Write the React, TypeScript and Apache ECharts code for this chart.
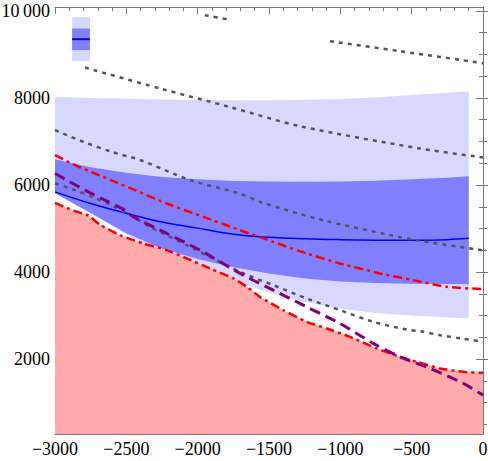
import { useEffect, useRef } from 'react';
import * as echarts from 'echarts';

// Axis extents
const X_MIN = -3000;
const X_MAX = 0;
const Y_MIN = 280;
const Y_MAX = 10090;

const yMajorTicks = [2000, 4000, 6000, 8000, 10000];
const yMinorTicks = [500, 1000, 1500, 2000, 2500, 3000, 3500, 4000, 4500, 5000, 5500, 6000, 6500, 7000, 7500, 8000, 8500, 9000, 9500, 10000];

// Projection bands (outer = light, inner = dark) and their median
const bandX = [-3000, -2750, -2500, -2250, -2000, -1750, -1500, -1250, -1000, -750, -500, -250, -100];
const outerHi = [8030, 8000, 7980, 7965, 7955, 7950, 7950, 7957, 7975, 8010, 8070, 8120, 8155];
const innerHi = [6590, 6410, 6280, 6185, 6130, 6095, 6080, 6073, 6080, 6100, 6130, 6170, 6200];
const median = [5843, 5575, 5350, 5150, 5010, 4870, 4800, 4765, 4745, 4734, 4730, 4745, 4775];
const innerLo = [5813, 5360, 4890, 4535, 4300, 4110, 3965, 3850, 3785, 3748, 3732, 3725, 3723];
const outerLo = [5813, 5350, 4870, 4440, 4110, 3800, 3530, 3320, 3160, 3060, 3000, 2962, 2942];

// Key box in the upper-left corner
const keyX = [-2880, -2755];
const keyOuterLo = [8850, 8850];
const keyOuterHi = [9860, 9860];
const keyInnerLo = [9100, 9100];
const keyInnerHi = [9595, 9595];
const keyMedian = [9350, 9350];

// Red dash-dot bounds (lower one is filled)
const redLowX = [-3000, -2860, -2767, -2685, -2544, -2381, -2217, -2077, -1913, -1750, -1650, -1563, -1400, -1236, -1096, -932, -745, -582, -465, -301, -138, 0];
const redLowY = [5590, 5400, 5300, 5090, 4848, 4658, 4504, 4313, 4083, 3854, 3650, 3430, 3126, 2857, 2705, 2512, 2246, 2053, 1938, 1786, 1708, 1685];
const redHighX = [-3000, -2860, -2720, -2579, -2439, -2217, -1960, -1703, -1470, -1236, -1003, -722, -489, -255, 0];
const redHighY = [6686, 6456, 6265, 6073, 5882, 5576, 5269, 4963, 4694, 4428, 4198, 3969, 3815, 3661, 3608];

// Purple dashed curve
const purpleX = [-3000, -2790, -2650, -2509, -2450, -2217, -1984, -1680, -1470, -1236, -1003, -769, -582, -371, -138, 0];
const purpleY = [6265, 5883, 5652, 5423, 5269, 4887, 4504, 3929, 3585, 3201, 2820, 2361, 2053, 1786, 1442, 1173];

// Gray dotted curves
const gray1aX = [-1950, -1794];
const gray1aY = [9902, 9810];
const gray1bX = [-1072, -582, 0];
const gray1bY = [9305, 9075, 8800];
const gray2X = [-2790, -2264, -1780, -1283, -442, 0];
const gray2Y = [8700, 8218, 7798, 7352, 6840, 6633];
const gray3X = [-3000, -2800, -2600, -2400, -2050, -1700, -1560, -1120, -650, -440, 0];
const gray3Y = [7260, 6990, 6760, 6570, 6110, 5800, 5610, 5190, 4850, 4717, 4500];
const gray4X = [-3000, -2860, -2720, -2580, -2460, -2334, -2054, -1703, -1470, -1236, -1003, -769, -535, -440, -300, -140, 0];
const gray4Y = [6036, 5882, 5700, 5500, 5290, 5039, 4580, 4005, 3700, 3394, 3126, 2857, 2680, 2640, 2550, 2470, 2400];

const LIGHT = '#D8D8FF';
const DARK = '#8080FF';
const PINK = '#FFAAAA';
const RED = '#FF0000';
const PURPLE = '#800080';
const GRAY = '#555555';
const BLUE = '#0000FF';
const FRAME = '#777777';
const FONT = 'Liberation Serif';

const pairs = (xs: number[], ys: number[]) => xs.map((x, i) => [x, ys[i]]);

function band(name: string, xs: number[], lo: number[], hi: number[], color: string, z: number) {
  return {
    type: 'custom',
    name,
    z,
    silent: true,
    data: xs.map((x, i) => [x, lo[i], hi[i]]),
    encode: { x: 0, y: [1, 2] },
    renderItem: (params: any, api: any) => {
      if (params.dataIndex !== 0) return null;
      const top = xs.map((x, i) => api.coord([x, hi[i]]));
      const bottom = xs.map((x, i) => api.coord([x, lo[i]])).reverse();
      return {
        type: 'polygon',
        shape: { points: top.concat(bottom) },
        style: { fill: color, stroke: null },
      };
    },
  };
}

function curve(name: string, xs: number[], ys: number[], color: string, width: number, dash: any, z: number, smooth: number, extra: any = {}) {
  return {
    type: 'line',
    name,
    z,
    silent: true,
    data: pairs(xs, ys),
    showSymbol: false,
    symbol: 'none',
    smooth,
    lineStyle: { color, width, type: dash, cap: 'butt' },
    ...extra,
  };
}

const fmtX = (v: number) => (v < 0 ? '\u2212' + Math.abs(v) : String(v));
const fmtY = (v: number) => (v >= 10000 ? '10\u2009000' : String(v));

export default function App() {
  const ref = useRef<HTMLDivElement>(null);

  useEffect(() => {
    document.body.style.margin = '0';
    const chart = echarts.init(ref.current as HTMLDivElement, null, { renderer: 'svg' });

    const yBase = {
      type: 'value',
      min: Y_MIN,
      max: Y_MAX,
      splitLine: { show: false },
    };
    const xBase = {
      type: 'value',
      min: X_MIN,
      max: X_MAX,
      interval: 500,
      splitLine: { show: false },
    };
    const labelText = { color: '#000', fontFamily: FONT, fontSize: 18 };

    chart.setOption({
      animation: false,
      textStyle: { fontFamily: FONT },
      grid: { left: 55, right: 5, top: 7, bottom: 27, containLabel: false, outerBoundsMode: 'none' },
      xAxis: [
        {
          ...xBase,
          position: 'bottom',
          axisLine: { show: true, lineStyle: { color: FRAME, width: 1 } },
          axisTick: { show: true, inside: true, length: 7, lineStyle: { color: FRAME } },
          minorTick: { show: true, splitNumber: 5, length: 4, lineStyle: { color: FRAME } },
          axisLabel: {
            show: true,
            margin: 6,
            formatter: fmtX,
            ...labelText,
          },
        },
        {
          ...xBase,
          position: 'top',
          axisLine: { show: true, lineStyle: { color: FRAME, width: 1 } },
          axisTick: { show: true, inside: true, length: 7, lineStyle: { color: FRAME } },
          minorTick: { show: true, splitNumber: 5, length: 4, lineStyle: { color: FRAME } },
          axisLabel: { show: false },
        },
      ],
      yAxis: [
        {
          ...yBase,
          position: 'left',
          axisLine: { show: true, lineStyle: { color: FRAME, width: 1 } },
          axisTick: { show: true, inside: true, length: 7, customValues: yMajorTicks, lineStyle: { color: FRAME } },
          axisLabel: {
            show: true,
            margin: 5,
            customValues: yMajorTicks,
            formatter: fmtY,
            ...labelText,
          },
        },
        {
          ...yBase,
          position: 'left',
          axisLine: { show: false },
          axisTick: { show: true, inside: true, length: 4, customValues: yMinorTicks, lineStyle: { color: FRAME } },
          axisLabel: { show: false },
        },
        {
          ...yBase,
          position: 'right',
          axisLine: { show: true, lineStyle: { color: FRAME, width: 1 } },
          axisTick: { show: true, inside: true, length: 7, customValues: yMajorTicks, lineStyle: { color: FRAME } },
          axisLabel: { show: false },
        },
        {
          ...yBase,
          position: 'right',
          axisLine: { show: false },
          axisTick: { show: true, inside: true, length: 4, customValues: yMinorTicks, lineStyle: { color: FRAME } },
          axisLabel: { show: false },
        },
      ],
      series: [
        band('outer band', bandX, outerLo, outerHi, LIGHT, 1),
        band('inner band', bandX, innerLo, innerHi, DARK, 2),
        band('key outer', keyX, keyOuterLo, keyOuterHi, LIGHT, 1),
        band('key inner', keyX, keyInnerLo, keyInnerHi, DARK, 2),
        curve('lower bound', redLowX, redLowY, RED, 2.5, [9, 4, 3, 4], 4, 0.2, {
          areaStyle: { color: PINK, opacity: 1, origin: 'start' },
        }),
        curve('median', bandX, median, BLUE, 1.5, 'solid', 5, 0.4),
        curve('key median', keyX, keyMedian, BLUE, 2, 'solid', 5, 0),
        curve('gray 1a', gray1aX, gray1aY, GRAY, 2.5, [4, 5], 6, 0.3),
        curve('gray 1b', gray1bX, gray1bY, GRAY, 2.5, [4, 5], 6, 0.3),
        curve('gray 2', gray2X, gray2Y, GRAY, 2.5, [4, 5], 6, 0.3),
        curve('gray 3', gray3X, gray3Y, GRAY, 2.5, [4, 5], 6, 0.3),
        curve('gray 4', gray4X, gray4Y, GRAY, 2.5, [4, 5], 6, 0.3),
        curve('upper bound', redHighX, redHighY, RED, 2.5, [9, 4, 3, 4], 7, 0.2),
        curve('purple', purpleX, purpleY, PURPLE, 3, [11, 6], 8, 0.3),
      ],
    });

    return () => chart.dispose();
  }, []);

  return <div ref={ref} style={{ width: 488, height: 461 }} />;
}
